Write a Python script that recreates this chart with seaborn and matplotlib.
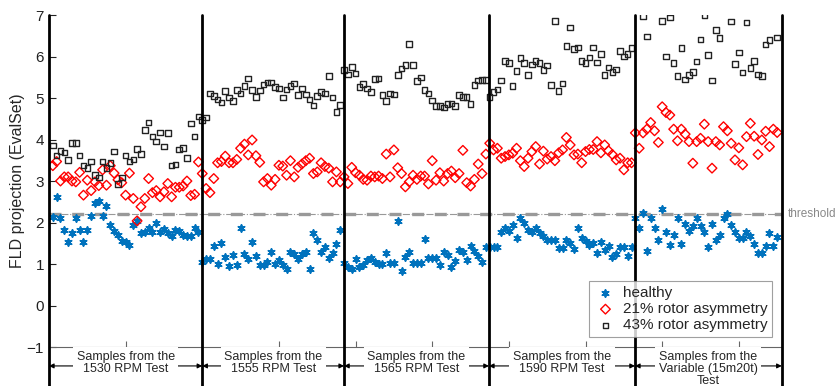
import numpy as np
import pandas as pd
import matplotlib
matplotlib.use("Agg")
import matplotlib.pyplot as plt
import seaborn as sns

# segment boundaries (sample index) and labels under the axis
boundaries = [0, 40, 77, 114.8, 152.9, 191.2]
seg_labels = ["Samples from the\n1530 RPM Test",
              "Samples from the\n1555 RPM Test",
              "Samples from the\n1565 RPM Test",
              "Samples from the\n1590 RPM Test",
              "Samples from the\nVariable (15m20t)\nTest"]
seg_starts = [1, 40, 78, 115, 153]

# FLD projections, one list per test segment
healthy = [
    [2.14, 2.62, 2.12, 1.82, 1.52, 1.74, 2.12, 1.82, 1.54, 1.82, 2.16, 2.46, 2.53, 2.16, 2.41, 1.95, 1.80, 1.70, 1.56, 1.52,
     1.45, 1.94, 2.04, 1.74, 1.76, 1.87, 1.76, 1.99, 1.76, 1.84, 1.74, 1.68, 1.82, 1.80, 1.69, 1.68, 1.67, 1.88, 1.78],
    [1.06, 1.11, 1.12, 1.44, 1.00, 1.51, 1.16, 0.95, 1.21, 0.98, 1.86, 1.24, 1.11, 1.54, 1.19, 0.98, 0.98, 1.06, 1.30, 1.00,
     1.10, 0.98, 0.87, 1.28, 1.24, 1.12, 1.23, 1.28, 0.89, 1.74, 1.59, 1.28, 1.40, 1.15, 1.27, 1.49, 1.82, 1.03],
    [0.92, 0.87, 1.11, 0.94, 0.97, 1.10, 1.14, 1.04, 0.99, 0.99, 1.26, 1.02, 1.02, 2.04, 0.82, 1.16, 1.30, 1.03, 1.02, 1.02,
     1.61, 1.14, 1.15, 1.14, 0.97, 1.30, 1.22, 0.92, 1.08, 1.34, 1.28, 1.10, 1.43, 1.31, 1.20, 1.04, 1.40],
    [1.40, 1.42, 1.40, 1.78, 1.86, 1.80, 1.94, 1.62, 2.10, 2.00, 1.82, 1.78, 1.86, 1.74, 1.68, 1.58, 1.58, 1.59, 1.39, 1.39,
     1.58, 1.50, 1.37, 1.86, 1.62, 1.55, 1.46, 1.50, 1.26, 1.53, 1.34, 1.43, 1.18, 1.24, 1.42, 1.42, 1.20, 1.42],
    [2.12, 1.88, 2.22, 1.32, 2.10, 1.88, 1.58, 2.32, 1.76, 1.46, 1.70, 2.10, 1.48, 1.96, 1.80, 1.92, 2.10, 1.91, 1.78, 1.40,
     1.96, 1.58, 1.71, 2.12, 2.20, 1.94, 1.76, 1.63, 1.62, 1.78, 1.67, 1.48, 1.26, 1.26, 1.44, 1.75, 1.44, 1.64],
]
rotor21 = [
    [3.37, 3.47, 3.00, 3.10, 3.10, 3.00, 2.98, 3.21, 2.66, 3.02, 2.77, 2.98, 2.89, 3.27, 2.90, 3.37, 3.19, 3.03, 2.96, 2.66,
     3.19, 2.58, 2.04, 2.38, 2.58, 3.06, 2.72, 2.77, 2.62, 2.74, 2.94, 2.62, 2.85, 2.85, 2.88, 3.00, 2.65, 2.68, 3.46],
    [3.18, 2.82, 2.72, 3.06, 3.44, 3.47, 3.60, 3.44, 3.44, 3.52, 3.79, 3.89, 3.63, 3.99, 3.61, 3.45, 2.98, 3.06, 2.90, 3.04,
     3.38, 3.36, 3.14, 3.49, 3.10, 3.33, 3.41, 3.49, 3.55, 3.18, 3.22, 3.44, 3.35, 3.31, 2.98, 3.22, 2.98, 3.10],
    [2.94, 3.33, 3.20, 3.14, 3.04, 3.02, 3.12, 3.10, 3.12, 3.06, 3.65, 3.10, 3.75, 3.32, 3.18, 2.86, 2.98, 3.14, 3.04, 3.12,
     3.12, 2.93, 3.49, 3.02, 3.20, 3.00, 3.18, 3.24, 3.08, 3.18, 3.74, 2.96, 2.88, 3.04, 3.41, 3.18, 3.65],
    [3.91, 3.75, 3.79, 3.55, 3.59, 3.63, 3.67, 3.79, 3.49, 3.35, 3.55, 3.71, 3.83, 3.41, 3.72, 3.53, 3.59, 3.49, 3.68, 3.75,
     4.05, 3.87, 3.63, 3.65, 3.44, 3.71, 3.76, 3.76, 3.95, 3.68, 3.87, 3.73, 3.64, 3.51, 3.55, 3.27, 3.44, 3.44],
    [4.16, 3.79, 4.16, 4.25, 4.41, 4.21, 3.93, 4.79, 4.65, 4.59, 4.25, 3.97, 4.25, 4.13, 3.95, 3.43, 3.95, 4.03, 4.37, 3.95,
     3.31, 3.95, 3.87, 4.31, 4.21, 3.91, 3.51, 3.80, 3.39, 4.07, 4.39, 4.08, 3.64, 3.99, 4.20, 3.83, 4.25, 4.17],
]
nan = np.nan
rotor43 = [
    [3.86, 3.61, 3.72, 3.69, 3.51, 3.91, 3.91, 3.62, 3.37, 3.31, 3.47, 3.14, 3.09, 3.47, 3.31, 3.43, 3.71, 2.93, 3.09, 3.61,
     3.47, 3.52, 3.77, 3.65, 4.23, 4.41, 4.07, 3.95, 4.17, 3.83, 4.16, 3.37, 3.40, 3.76, 3.80, 3.55, 4.39, 4.07, 4.55],
    [4.47, 4.53, 5.11, 5.05, 4.97, 4.89, 5.17, 5.01, 4.93, 5.19, 5.11, 5.29, 5.47, 5.19, 5.02, 5.18, 5.33, 5.37, 5.37, 5.27,
     5.23, 5.01, 5.21, 5.29, 5.35, 5.07, 5.23, 5.09, 4.97, 4.82, 5.05, 5.15, 5.11, 5.53, 5.01, 4.67, 4.83, 5.67],
    [5.57, 5.75, 5.59, 5.27, 5.34, 5.23, 5.14, 5.46, 5.47, 5.07, 4.93, 5.11, 5.09, 5.55, 5.71, 5.79, 6.30, 5.80, 5.41, 5.50,
     5.19, 5.11, 4.94, 4.81, 4.81, 4.77, 4.85, 4.87, 4.81, 5.07, 5.02, 5.02, 4.86, 5.31, 5.42, 5.43, 5.43],
    [5.02, 5.15, 5.21, 5.42, 5.89, 5.84, 5.29, 5.65, 5.96, 5.84, 5.55, 5.81, 5.89, 5.84, 5.67, 5.78, 5.31, 6.86, 5.17, 5.35,
     6.26, 6.70, 6.18, 6.22, 5.89, 5.84, 5.98, 6.22, 5.86, 6.06, 5.55, 5.74, 5.63, 5.69, 6.13, 6.00, 6.06, 6.20],
    [nan, nan, 6.98, 6.48, nan, nan, nan, 6.86, 6.00, 6.94, 5.84, 5.53, 6.20, 5.45, 5.55, 5.63, 5.88, 6.41, 7.00, 6.04,
     5.42, 6.64, 6.45, nan, nan, 6.84, 5.82, 6.10, 5.62, 6.82, 5.73, 5.89, 5.57, 5.53, 6.29, 6.40, nan, 6.46],
]
threshold = 2.2


def to_frame(segments):
    rows = []
    for start, seg in zip(seg_starts, segments):
        for k, v in enumerate(seg):
            rows.append((start + k, v))
    return pd.DataFrame(rows, columns=["sample", "fld"])


df_h = to_frame(healthy)
df_21 = to_frame(rotor21)
df_43 = to_frame(rotor43)

sns.set_style("white")
plt.rcParams["font.family"] = ["Liberation Sans", "DejaVu Sans"]

fig = plt.figure(figsize=(8.37, 3.86), dpi=100)
ax = fig.add_axes([0.0585, 0.101, 0.8755, 0.860])

# threshold: thick dashed grey plus thin dash-dot
ax.axhline(threshold, color="#999999", lw=0.8, ls="-.", zorder=1)
ax.axhline(threshold, color="#999999", lw=2.4, dashes=(3.6, 3.2), zorder=1)

sns.scatterplot(data=df_h, x="sample", y="fld", ax=ax, marker=(6, 2, 0), s=24,
                color="#0072BD", linewidth=1.3, label="healthy", zorder=3)
sns.scatterplot(data=df_21, x="sample", y="fld", ax=ax, marker="D", s=24,
                facecolor="none", edgecolor="#FF0000", linewidth=1.0,
                label="21% rotor asymmetry", zorder=3)
sns.scatterplot(data=df_43, x="sample", y="fld", ax=ax, marker="s", s=16,
                facecolor="none", edgecolor="#222222", linewidth=1.0,
                label="43% rotor asymmetry", zorder=3)

ax.set_xlim(boundaries[0], boundaries[-1])
ax.set_ylim(-1, 7)
ax.set_yticks(range(-1, 8))
ax.set_xticks(range(20, 191, 20))
ax.set_xticklabels([])
ax.set_xlabel("")
ax.set_ylabel("FLD projection (EvalSet)", fontsize=11.5, labelpad=1)
ax.tick_params(axis="y", direction="in", length=5, labelsize=11, left=True, colors="#222222")
ax.tick_params(axis="x", direction="in", length=4, bottom=True, color="#666666")
for side in ["top", "right", "left"]:
    ax.spines[side].set_visible(False)
ax.spines["bottom"].set_color("#666666")
ax.spines["bottom"].set_linewidth(0.8)

# segment separators, running down through the annotation strip
for b in boundaries:
    ax.axvline(b, ymin=-0.12, ymax=1, color="black", lw=2, clip_on=False, zorder=4)

trans = ax.get_xaxis_transform()
for i, lab in enumerate(seg_labels):
    a, b = boundaries[i], boundaries[i + 1]
    ax.annotate("", xy=(a, -0.057), xytext=(b, -0.057), xycoords=trans, textcoords=trans,
                arrowprops=dict(arrowstyle="<|-|>", color="black", lw=0.8,
                                mutation_scale=7, shrinkA=0, shrinkB=0))
    ax.text((a + b) / 2, -0.012, lab, transform=trans, ha="center", va="top",
            fontsize=9, linespacing=1.0,
            bbox=dict(facecolor="white", edgecolor="none", pad=2.5))

ax.text(1.008, threshold, "threshold", transform=ax.get_yaxis_transform(),
        ha="left", va="center", fontsize=8.5, color="#888888")

leg = ax.legend(loc="lower right", bbox_to_anchor=(0.987, 0.03), borderaxespad=0,
                fontsize=11, frameon=True, fancybox=False, labelspacing=0.15,
                handletextpad=0.4, borderpad=0.3, handlelength=1.5)
leg.get_frame().set_edgecolor("#888888")
leg.get_frame().set_linewidth(0.8)

fig.savefig("out.png", dpi=100)
